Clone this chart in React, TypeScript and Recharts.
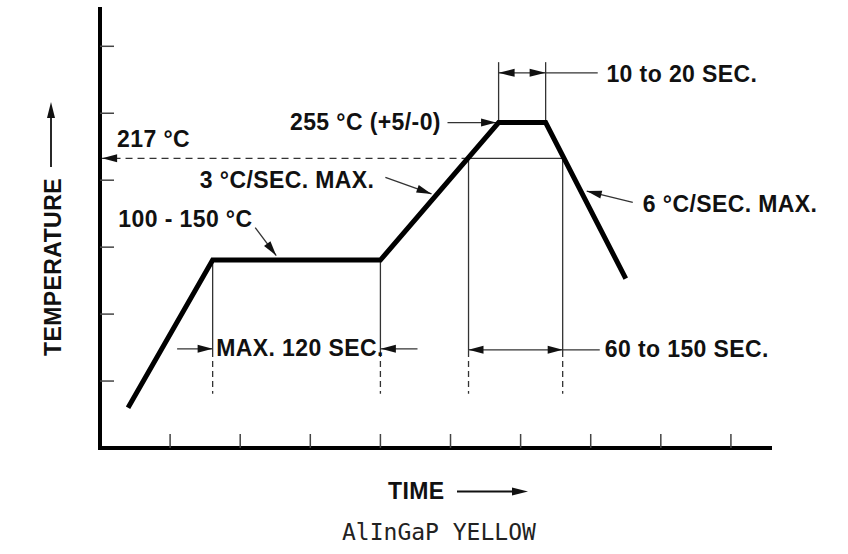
import { ComposedChart, Line, XAxis, YAxis, ReferenceLine, ReferenceDot } from 'recharts';

// schematic units: one grid tick = 1 on each axis
const xTicks = [1, 2, 3, 4, 5, 6, 7, 8, 9];
const yTicks = [1, 2, 3, 4, 5, 6];

// reflow profile corners (time, temperature)
const profileTime = [0.4, 1.607, 4.0, 5.686, 6.357, 7.5];
const profileTemp = [0.6, 2.807, 2.807, 4.861, 4.861, 2.53];
const profile = profileTime.map((t, i) => ({ t, temp: profileTemp[i] }));

// key levels / times
const liquidus = 4.326; // 217 °C
const soak = 2.807;
const peak = 4.861;
const soakStart = 1.607;
const soakEnd = 4.0;
const peakStart = 5.686;
const peakEnd = 6.357;
const aboveStart = 5.257;
const aboveEnd = 6.6;
const guideLow = 0.81;
const guideBreak = 1.45;
const peakGuideTop = 5.763;

type Seg = { x1: number; y1: number; x2: number; y2: number; head?: 'none' | 'end' | 'both'; dash?: string; len?: number };

const solidGuides: Seg[] = [
  { x1: soakStart, y1: soak, x2: soakStart, y2: guideBreak },
  { x1: soakEnd, y1: soak, x2: soakEnd, y2: guideBreak },
  { x1: aboveStart, y1: liquidus, x2: aboveStart, y2: guideBreak },
  { x1: aboveEnd, y1: liquidus, x2: aboveEnd, y2: guideBreak },
  { x1: peakStart, y1: peak, x2: peakStart, y2: peakGuideTop },
  { x1: peakEnd, y1: peak, x2: peakEnd, y2: peakGuideTop },
  { x1: aboveStart, y1: liquidus, x2: aboveEnd, y2: liquidus },
];

const dashedGuides: Seg[] = [soakStart, soakEnd, aboveStart, aboveEnd].map((x) => ({
  x1: x, y1: guideBreak, x2: x, y2: guideLow, dash: '6 4',
}));

const arrows: Seg[] = [
  { x1: aboveStart, y1: liquidus, x2: 0.03, y2: liquidus, head: 'end', dash: '7 5' },
  { x1: 4.957, y1: peak, x2: 5.65, y2: peak, head: 'end' },
  { x1: 4.071, y1: 4.042, x2: 4.729, y2: 3.795, head: 'end' },
  { x1: 2.214, y1: 3.293, x2: 2.514, y2: 2.874, head: 'end' },
  { x1: 7.6, y1: 3.668, x2: 6.943, y2: 3.837, head: 'end' },
  { x1: peakStart, y1: 5.603, x2: peakEnd, y2: 5.603, head: 'both', len: 16 },
  { x1: peakEnd, y1: 5.603, x2: 7.1, y2: 5.603 },
  { x1: aboveStart, y1: 1.467, x2: aboveEnd, y2: 1.467, head: 'both' },
  { x1: aboveEnd, y1: 1.467, x2: 7.129, y2: 1.467 },
  { x1: 1.1, y1: 1.482, x2: soakStart, y2: 1.482, head: 'end' },
  { x1: 4.529, y1: 1.482, x2: 4.007, y2: 1.482, head: 'end' },
];

const labelText = ['217 °C', '255 °C (+5/-0)', '3 °C/SEC. MAX.', '100 - 150 °C', 'MAX. 120 SEC.', '60 to 150 SEC.', '10 to 20 SEC.', '6 °C/SEC. MAX.'];
const labelX = [0.243, 2.71, 1.424, 0.261, 1.657, 7.2, 7.224, 7.743];
const labelY = [4.491, 4.753, 3.877, 3.301, 1.377, 1.362, 5.472, 3.525];

const BOLD = 'Liberation Sans, Arial, Helvetica, sans-serif';
const INK = '#111';
const THIN = '#333';

function head(tx: number, ty: number, ux: number, uy: number, len: number, hw: number) {
  const bx = tx - ux * len;
  const by = ty - uy * len;
  return `${tx},${ty} ${bx - uy * hw},${by + ux * hw} ${bx + uy * hw},${by - ux * hw}`;
}

function segShape(s: Seg) {
  return (p: any) => {
    const { x1, y1, x2, y2 } = p;
    if (x1 == null) return <g />;
    const dx = x2 - x1;
    const dy = y2 - y1;
    const d = Math.hypot(dx, dy) || 1;
    const ux = dx / d;
    const uy = dy / d;
    const len = s.len ?? 15;
    return (
      <g>
        <line x1={x1} y1={y1} x2={x2} y2={y2} stroke={THIN} strokeWidth={1.3} strokeDasharray={s.dash} />
        {s.head && s.head !== 'none' && <polygon points={head(x2, y2, ux, uy, len, 4)} fill={INK} />}
        {s.head === 'both' && <polygon points={head(x1, y1, -ux, -uy, len, 4)} fill={INK} />}
      </g>
    );
  };
}

function textShape(text: string) {
  return (p: any) => (
    <text x={p.cx} y={p.cy} fontFamily={BOLD} fontWeight="bold" fontSize={23} letterSpacing={0.4} fill={INK}>
      {text}
    </text>
  );
}

// keep tick marks, drop tick labels
const noLabel = () => <g />;

export default function App() {
  const all = [...solidGuides, ...dashedGuides, ...arrows];
  return (
    <div style={{ position: 'absolute', left: 0, top: 0, width: 848, height: 554, background: '#fff' }}>
      <ComposedChart width={848} height={554} margin={{ top: 9, right: 76, bottom: 106, left: 100 }}>
        <XAxis
          dataKey="t"
          type="number"
          domain={[0, 9.586]}
          allowDataOverflow
          ticks={xTicks}
          interval={0}
          height={1}
          mirror
          tick={noLabel}
          tickSize={14}
          tickLine={{ stroke: '#444', strokeWidth: 1.5 }}
          axisLine={{ stroke: '#000', strokeWidth: 4 }}
        />
        <YAxis
          type="number"
          domain={[0, 6.557]}
          allowDataOverflow
          ticks={yTicks}
          interval={0}
          width={1}
          mirror
          tick={noLabel}
          tickSize={14}
          tickLine={{ stroke: '#444', strokeWidth: 1.5 }}
          axisLine={{ stroke: '#000', strokeWidth: 4, strokeLinecap: 'square' }}
        />
        {all.map((s, i) => (
          <ReferenceLine
            key={`s${i}`}
            segment={[{ x: s.x1, y: s.y1 }, { x: s.x2, y: s.y2 }]}
            stroke={THIN}
            shape={segShape(s)}
          />
        ))}
        <Line
          data={profile}
          dataKey="temp"
          type="linear"
          stroke="#000"
          strokeWidth={5}
          strokeLinejoin="miter"
          dot={false}
          activeDot={false}
          isAnimationActive={false}
        />
        {labelText.map((t, i) => (
          <ReferenceDot key={`l${i}`} x={labelX[i]} y={labelY[i]} r={1} shape={textShape(t)} />
        ))}
      </ComposedChart>
      <svg width={848} height={554} style={{ position: 'absolute', left: 0, top: 0, pointerEvents: 'none' }}>
        <text
          x={61}
          y={267}
          transform="rotate(-90 61 267)"
          textAnchor="middle"
          fontFamily={BOLD}
          fontWeight="bold"
          fontSize={23}
          letterSpacing={0.4}
          fill={INK}
        >
          TEMPERATURE
        </text>
        <line x1={51} y1={167} x2={51} y2={112} stroke={INK} strokeWidth={1.8} />
        <polygon points="51,102 47,118 55,118" fill={INK} />
        <text x={388} y={499} fontFamily={BOLD} fontWeight="bold" fontSize={23} letterSpacing={0.4} fill={INK}>
          TIME
        </text>
        <line x1={457} y1={491.5} x2={518} y2={491.5} stroke={INK} strokeWidth={1.8} />
        <polygon points="528,491.5 512,487.5 512,495.5" fill={INK} />
        <text x={342} y={540} fontFamily="DejaVu Sans Mono, monospace" fontSize={23} fill="#222">
          AlInGaP YELLOW
        </text>
      </svg>
    </div>
  );
}
